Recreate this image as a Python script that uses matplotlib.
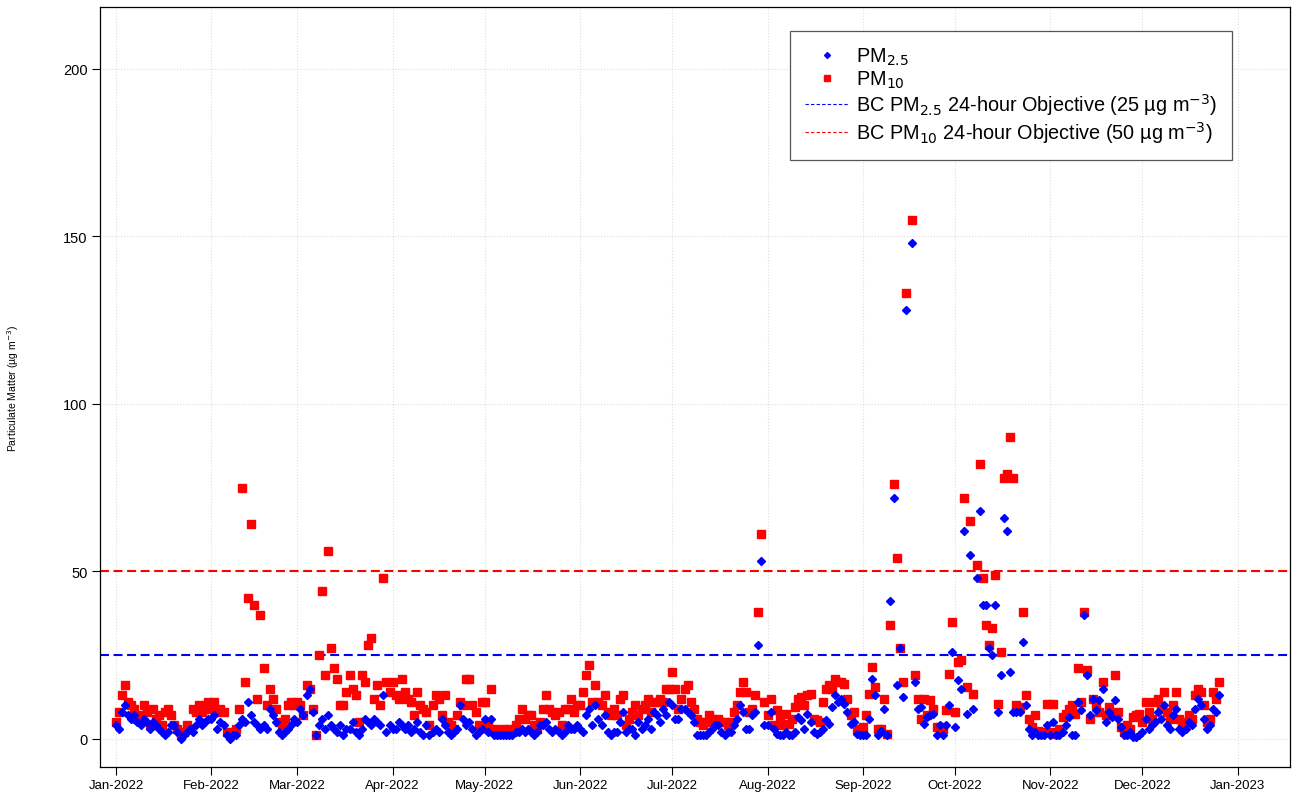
import numpy as np
import pandas as pd
import matplotlib
matplotlib.use("Agg")
import matplotlib.pyplot as plt
import matplotlib.dates as mdates
from matplotlib.lines import Line2D

plt.rcParams['font.family'] = ['Liberation Sans', 'DejaVu Sans']

nan = np.nan

# daily PM10 (ug/m3), one list per month of 2022
pm10_jan = [5, 8, 13, 16, 11, 10, 9, 6, 7, 10, 8, 4, 9, 6, 7, 4, 8, 9, 7, 4, 3, 1, 2, 4, 3, 9, 8, 10, 8, 9, 11]
pm10_feb = [9, 11, 8, 9, 8, 2, 1, 2, 3, 9, 75, 17, 42, 64, 40, 12, 37, 21, 10, 15, 12, 9, 5, 4, 6, 10, 11, 10]
pm10_mar = [11, 10, 7, 16, 15, 9, 1, 25, 44, 19, 56, 27, 21, 18, 10, 10, 14, 19, 15, 13, 5, 19, 17, 28, 30, 12, 16, 10, 48, 17, 14]
pm10_apr = [17, 13, 12, 18, 14, 12, 11, 7, 14, 10, 9, 8, 4, 10, 13, 12, 7, 13, 5, 4, 3, 7, 11, 10, 18, 18, 10, 8, 4, 11]
pm10_may = [11, 4, 15, 3, 2, 2, 3, 2, 3, 2, 4, 6, 9, 6, 7, 7, 4, 3, 5, 9, 13, 9, 8, 7, 8, 4, 9, 9, 12, 8, 10]
pm10_jun = [10, 14, 19, 22, 11, 16, 11, 10, 13, 8, 7, 9, 7, 12, 13, 4, 6, 8, 10, 7, 9, 10, 12, 8, 11, 11, 12, 11, 15, 15]
pm10_jul = [20, 15, 9, 12, 15, 16, 11, 9, 6, 5, 4, 5, 7, 6, 5, 6, 5, 5, 4, 5, 8, 10, 14, 17, 14, 8, 9, 13, 38, 61, 11]
pm10_aug = [7, 12, 4, 8.5, 6.5, 4, 7.5, 4.5, 6, 9.5, 12, 12.5, 10, 13, 13.5, 6, 5.5, 5, 11, 15, 16, 15, 18, 17, 17, 16.5, 12, 7, 8, 3, 2]
pm10_sep = [3.6, 7, 13.5, 21.5, 15.5, 3, 3, 12, 1.5, 34, 76, 54, 27, 17, 133, nan, 155, 19, 12, 6, 12, 7, 11.5, 9, 3.5, 3.5, 3, 8.5, 19.5, 35]
pm10_oct = [8, 23, 23.5, 72, 15.5, 65, 13.5, 52, 82, 48, 34, 28, 33, 49, 10.5, 26, 78, 79, 90, 78, 10, 9.5, 38, 13, 6, 3.5, 7, 2.4, 2, 2, 10.5]
pm10_nov = [2, 10.5, 1.5, 3, 6.5, 7.5, 9, 10, 7.5, 21, 11, 38, 20.5, 6, 12, 10, 8, 17, 7, 9.5, 7, 19, 8, 3.6, 2, 4, 3, 6.5, 7, 7.5]
pm10_dec = [5, 11, 8, 6, 11, 12, 9, 14, 8, 6, 10, 14, 6, 4, 5, 7, 6, 13, 15, 14, 10, 5, 6, 14, 12, 17]

# daily PM2.5 (ug/m3)
pm25_jan = [4, 3, 8, 10, 7, 6, 7, 5, 4, 6, 5, 3, 5, 4, 3, 2, 1, 2, 4, 4, 2, 0, 1, 2, 3, 2, 4, 6, 4, 5, 6]
pm25_feb = [6, 7, 3, 5, 4, 1, 0, 1, 1, 4, 6, 5, 11, 7, 5, 4, 3, 4, 3, 9, 7, 5, 2, 1, 2, 3, 4, 6]
pm25_mar = [5, 9, 7, 13, 15, 8, 1, 4, 6, 3, 7, 4, 3, 2, 4, 1, 3, 3, 5, 2, 1, 3, 6, 5, 4, 6, 5, 4, 13, 2, 4]
pm25_apr = [3, 3, 5, 4, 3, 4, 2, 3, 5, 2, 1, 4, 1, 2, 3, 2, 6, 4, 2, 1, 2, 3, 10, 6, 4, 5, 3, 1, 2, 3]
pm25_may = [6, 2, 6, 1, 1, 1, 1, 1, 1, 1, 2, 2, 3, 2, 3, 2, 1, 2, 4, 4, 5, 3, 2, 3, 2, 1, 2, 4, 3, 3, 4]
pm25_jun = [3, 2, 7, 9, 4, 10, 6, 4, 7, 2, 1, 2, 2, 5, 8, 2, 3, 3, 1, 5, 3, 4, 6, 3, 8, 7, 5, 9, 7, 11]
pm25_jul = [10, 6, 6, 9, 9, 8, 7, 5, 1, 1, 1, 1, 2, 3, 4, 4, 2, 1, 2, 2, 4, 6, 10, 8, 3, 3, 7, 8, 28, 53, 4]
pm25_aug = [4, 8, 3, 1.5, 1, 1, 2, 1, 1, 2, 6.5, 5.5, 3, 7.5, 5, 2, 1.5, 2, 3, 5.5, 4.5, 9.5, 13, 11, 12, 10.5, 8, 4.5, 5, 1.5, 1]
pm25_sep = [1, 1, 6, 18, 13, 1, 2.4, 9, 1, 41, 72, 16, 27, 12.5, 128, nan, 148, 17, 9, 9.5, 4.5, 6.5, 7, 7.5, 1, 4, 1, 4, 10, 26]
pm25_oct = [3.6, 17.5, 15, 62, 7.5, 55, 9, 48, 68, 40, 40, 27, 25, 40, 8, 19, 66, 62, 20, 8, 8, 8, 29, 10, 3, 1, 2, 1, 1, 1, 4]
pm25_nov = [1, 5, 1, 1, 2, 4, 6.5, 1, 1, 11, 8.5, 37, 19, 7, 12, 8.5, 11.5, 15, 5, 8, 6.5, 11.5, 6, 3.5, 1, 1, 2, 0.5, 0.5, 1]
pm25_dec = [2, 6, 3, 4, 5, 8, 6, 10, 4, 3, 7, 9, 3, 2, 3, 5, 4, 9, 12, 10, 6, 3, 4, 9, 8, 13]

pm10 = (pm10_jan + pm10_feb + pm10_mar + pm10_apr + pm10_may + pm10_jun +
        pm10_jul + pm10_aug + pm10_sep + pm10_oct + pm10_nov + pm10_dec)
pm25 = (pm25_jan + pm25_feb + pm25_mar + pm25_apr + pm25_may + pm25_jun +
        pm25_jul + pm25_aug + pm25_sep + pm25_oct + pm25_nov + pm25_dec)
dates = pd.date_range("2022-01-01", periods=len(pm10), freq="D")

pm25_objective = 25
pm10_objective = 50

fig = plt.figure(figsize=(12.97, 8.04), dpi=100)
ax = fig.add_axes([0.0771, 0.0448, 0.9175, 0.945])

start = pd.Timestamp("2022-01-01")
ticks = pd.date_range("2022-01-01", "2023-01-01", freq="MS")

# faint grid like R's grid()
for t in ticks:
    ax.axvline(t, color="#dedede", lw=0.8, ls=":", zorder=0)
for yv in [0, 50, 100, 150, 200]:
    ax.axhline(yv, color="#dedede", lw=0.8, ls=":", zorder=0)

ax.plot(dates, pm10, ls="none", marker="s", ms=6, color="red", mec="red", zorder=3)
ax.plot(dates, pm25, ls="none", marker="D", ms=4, color="blue", mec="blue", zorder=4)

ax.axhline(pm25_objective, color="blue", lw=1.5, dashes=(4.3, 2.2), zorder=2)
ax.axhline(pm10_objective, color="red", lw=1.5, dashes=(4.3, 2.2), zorder=2)

ax.set_xlim(start - pd.Timedelta(days=5.2), start + pd.Timedelta(days=382))
ax.set_ylim(-8.4, 218.4)

ax.set_xticks(ticks)
ax.xaxis.set_major_formatter(mdates.DateFormatter("%b-%Y"))
ax.set_yticks([0, 50, 100, 150, 200])
ax.tick_params(axis="x", labelsize=9.5, length=6, pad=3)
ax.tick_params(axis="y", labelsize=10.5, length=6, pad=3)
ax.set_ylabel("Particulate Matter (\u00b5g m$^{-3}$)", fontsize=7.5, labelpad=30)

for s in ax.spines.values():
    s.set_linewidth(0.9)

handles = [
    Line2D([], [], ls="none", marker="D", ms=3, color="blue"),
    Line2D([], [], ls="none", marker="s", ms=5, color="red"),
    Line2D([], [], color="blue", lw=0.8, dashes=(3, 2)),
    Line2D([], [], color="red", lw=0.8, dashes=(3, 2)),
]
labels = [
    "PM$_{2.5}$",
    "PM$_{10}$",
    "BC PM$_{2.5}$ 24-hour Objective (25 \u00b5g m$^{-3}$)",
    "BC PM$_{10}$ 24-hour Objective (50 \u00b5g m$^{-3}$)",
]
leg = ax.legend(handles, labels, loc="upper right", bbox_to_anchor=(0.951, 0.969),
                borderaxespad=0, fontsize=14.3, frameon=True, fancybox=False,
                framealpha=1, edgecolor="#555555", handlelength=2.2,
                borderpad=0.75, labelspacing=0.08, handletextpad=0.35)
leg.get_frame().set_linewidth(0.9)

fig.savefig("out.png", dpi=100)
